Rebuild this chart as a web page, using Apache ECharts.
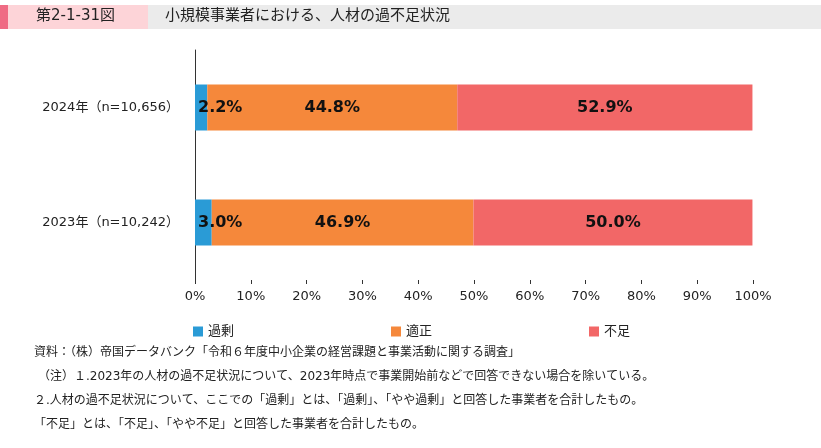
<!DOCTYPE html>
<html>
<head>
<meta charset="UTF-8">
<script src="https://cdn.jsdelivr.net/npm/echarts@6/dist/echarts.min.js"></script>
</head>
<body style="margin:0">
<div id="container" style="height:448px;width:821px;"></div>
<script>
var categories = ['2023年（n=10,242）', '2024年（n=10,656）'];
var seriesNames = ['過剰', '適正', '不足'];
var kajo = [3.0, 2.2];
var tekisei = [46.9, 44.8];
var fusoku = [50.0, 52.9];
var colors = ['#2a9bd6', '#f5883b', '#f26767'];
var notes = [
    '資料：（株）帝国データバンク「令和６年度中小企業の経営課題と事業活動に関する調査」',
    '（注）１.2023年の人材の過不足状況について、2023年時点で事業開始前などで回答できない場合を除いている。',
    '２.人材の過不足状況について、ここでの「過剰」とは、「過剰」、「やや過剰」と回答した事業者を合計したもの。',
    '「不足」とは、「不足」、「やや不足」と回答した事業者を合計したもの。'
];
var font = '"DejaVu Sans", "Noto Sans CJK JP", sans-serif';

var chart = echarts.init(document.getElementById('container'));
var label = {show: true, color: '#111', fontSize: 16, fontWeight: 'bold', fontFamily: font,
    formatter: function (p) { return p.value.toFixed(1) + '%'; }};

var graphic = [
    {type: 'rect', shape: {x: 0, y: 5, width: 148, height: 24}, style: {fill: '#fdd4d8'}},
    {type: 'rect', shape: {x: 0, y: 5, width: 8, height: 24}, style: {fill: '#ef6b84'}},
    {type: 'rect', shape: {x: 148, y: 5, width: 673, height: 24}, style: {fill: '#ebebeb'}},
    {type: 'text', x: 36, y: 9, style: {text: '第2-1-31図', font: '15px ' + font, fill: '#222'}},
    {type: 'text', x: 165, y: 9, style: {text: '小規模事業者における、人材の過不足状況', font: '15px ' + font, fill: '#222'}}
];
notes.forEach(function (t, i) {
    graphic.push({type: 'text', x: i === 1 ? 38 : 34, y: 347 + i * 24,
        style: {text: t, font: '12px ' + font, fill: '#222'}});
});

chart.setOption({
    animation: false,
    textStyle: {fontFamily: font},
    grid: {left: 195, right: 68, top: 50, bottom: 168},
    legend: {
        left: 188, top: 320, itemWidth: 10, itemHeight: 10, itemGap: 157,
        icon: 'rect', textStyle: {fontSize: 13, color: '#222'}, data: seriesNames
    },
    xAxis: {
        type: 'value', min: 0, max: 100, interval: 10,
        axisLine: {show: false},
        axisTick: {show: true, length: 4, lineStyle: {color: '#333'}},
        splitLine: {show: false},
        axisLabel: {formatter: '{value}%', fontSize: 13, color: '#222', margin: 10}
    },
    yAxis: {
        type: 'category', data: categories,
        axisLine: {show: true, lineStyle: {color: '#333'}},
        axisTick: {show: false},
        axisLabel: {fontSize: 13, color: '#222', margin: 16}
    },
    graphic: graphic,
    series: [
        {name: seriesNames[0], type: 'bar', stack: 'a', data: kajo, barWidth: 46,
            itemStyle: {color: colors[0]}, label: Object.assign({}, label, {position: 'insideLeft', offset: [-2, 0]})},
        {name: seriesNames[1], type: 'bar', stack: 'a', data: tekisei,
            itemStyle: {color: colors[1]}, label: label},
        {name: seriesNames[2], type: 'bar', stack: 'a', data: fusoku,
            itemStyle: {color: colors[2]}, label: label}
    ]
});
</script>
</body>
</html>
